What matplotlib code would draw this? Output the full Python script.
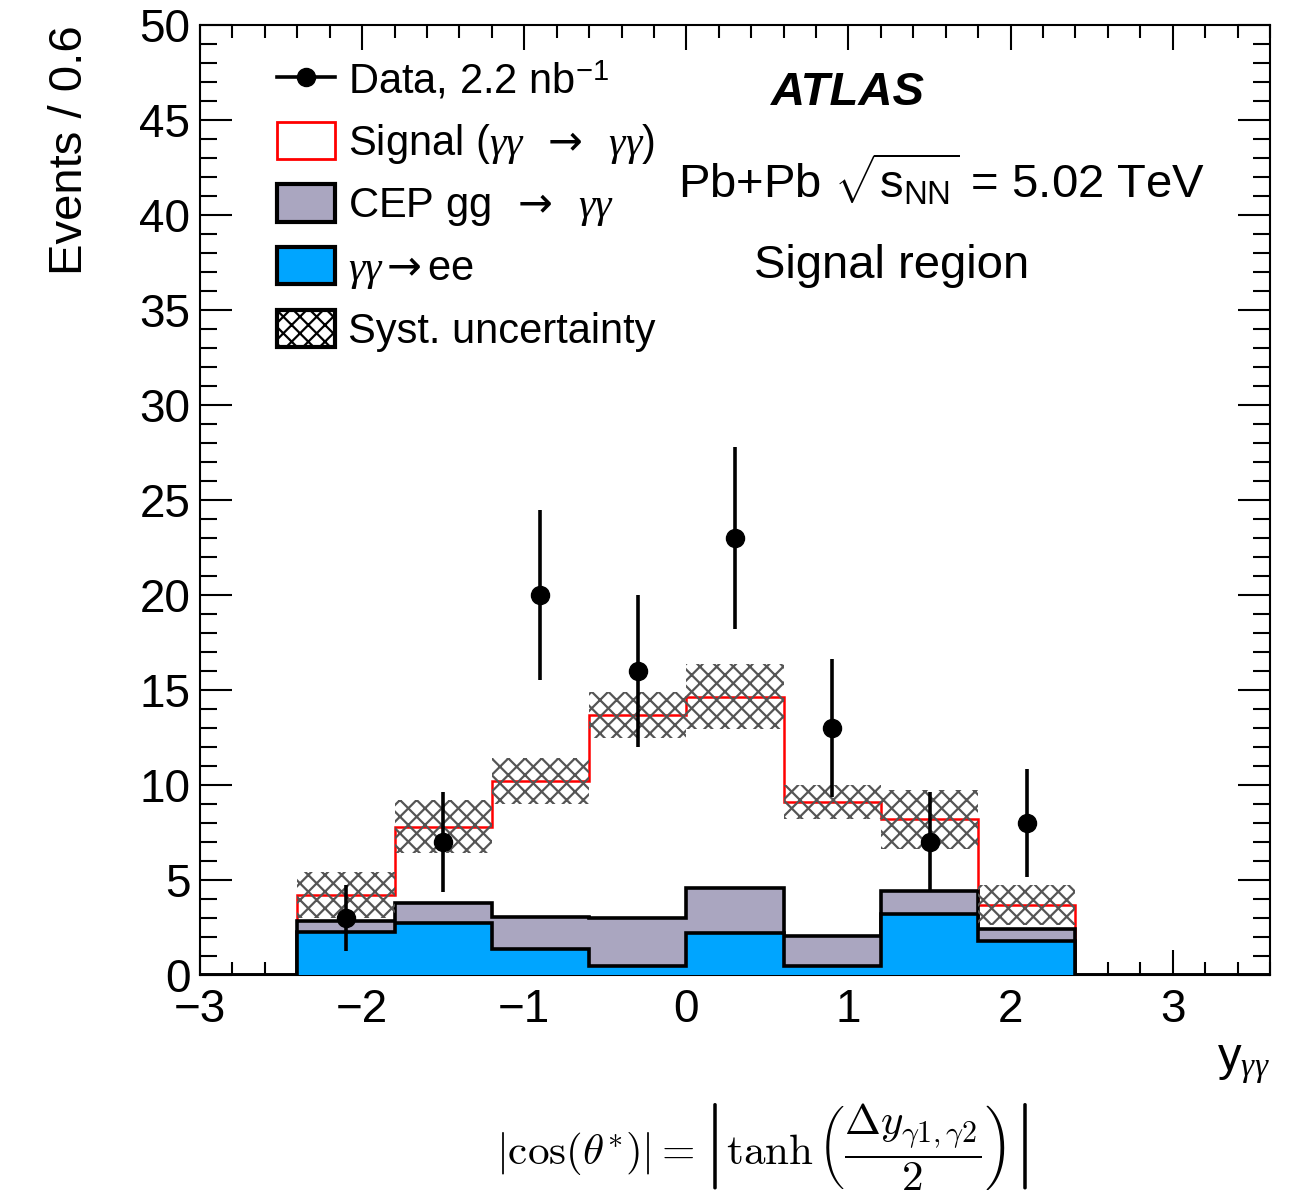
import numpy as np
import matplotlib
matplotlib.use("Agg")
import matplotlib.pyplot as plt
from matplotlib.patches import Patch
from matplotlib.lines import Line2D
from matplotlib.ticker import MultipleLocator

plt.rcParams['font.family'] = ['Liberation Sans', 'DejaVu Sans']
plt.rcParams['mathtext.fontset'] = 'custom'
plt.rcParams['mathtext.rm'] = 'Liberation Sans'
plt.rcParams['mathtext.it'] = 'Liberation Serif:italic'
plt.rcParams['mathtext.sf'] = 'DejaVu Sans'
plt.rcParams['mathtext.bf'] = 'Liberation Sans:bold'
plt.rcParams['hatch.linewidth'] = 1.6
plt.rcParams['hatch.color'] = '#555555'

# binning in y_gg (11 bins of 0.6 from -3 to 3.6)
edges = [-3.0, -2.4, -1.8, -1.2, -0.6, 0.0, 0.6, 1.2, 1.8, 2.4, 3.0, 3.6]
# stacked predictions per bin
ee = [0, 2.28, 2.72, 1.35, 0.47, 2.23, 0.47, 3.20, 1.80, 0, 0]
cep = [0, 0.58, 1.05, 1.69, 2.51, 2.37, 1.58, 1.20, 0.60, 0, 0]
signal = [0, 1.34, 4.03, 7.16, 10.72, 10.05, 7.05, 3.80, 1.30, 0, 0]
syst = [0, 1.20, 1.40, 1.20, 1.20, 1.70, 0.90, 1.55, 1.05, 0, 0]
# data
data_x = [-2.1, -1.5, -0.9, -0.3, 0.3, 0.9, 1.5, 2.1]
data_y = [3, 7, 20, 16, 23, 13, 7, 8]
data_err = [1.73, 2.65, 4.47, 4.0, 4.8, 3.61, 2.65, 2.83]

c_cep = '#aaa6c0'
c_ee = '#00a5ff'

edges = np.array(edges)
ee = np.array(ee)
bkg = ee + np.array(cep)
total = bkg + np.array(signal)
syst = np.array(syst)
centers = 0.5 * (edges[:-1] + edges[1:])

fig = plt.figure(figsize=(13.07, 11.97), dpi=100, facecolor='w')
ax = fig.add_axes([200/1307, 1-975/1197, 1070/1307, 950/1197])

# signal on top of stack (red outline), then backgrounds
ax.stairs(total, edges, color='red', lw=1.8, zorder=1)
ax.stairs(bkg, edges, baseline=ee, fill=True, color=c_cep, lw=0, zorder=2)
ax.stairs(bkg, edges, color='k', lw=2.6, zorder=3)
ax.stairs(ee, edges, fill=True, color=c_ee, lw=0, zorder=3)
ax.stairs(ee, edges, color='k', lw=2.6, zorder=4)

# systematic band
m = syst > 0
ax.bar(centers[m], 2*syst[m], bottom=total[m]-syst[m], width=0.6,
       fill=False, hatch='xx', edgecolor='#555555', lw=0, zorder=5)

ax.errorbar(data_x, data_y, yerr=data_err, fmt='o', color='k', ms=13,
            elinewidth=2.6, capsize=0, zorder=6)

ax.set_xlim(-3.0, 3.6)
ax.set_ylim(0, 50)
ax.xaxis.set_major_locator(MultipleLocator(1))
ax.xaxis.set_minor_locator(MultipleLocator(0.2))
ax.yaxis.set_major_locator(MultipleLocator(5))
ax.yaxis.set_minor_locator(MultipleLocator(1))
ax.tick_params(which='both', direction='in', top=True, right=True, width=1.5,
               labelsize=33)
ax.tick_params(axis='x', which='major', length=18, pad=9)
ax.tick_params(axis='x', which='minor', length=9.5)
ax.tick_params(axis='y', which='major', length=23, pad=7)
ax.tick_params(axis='y', which='minor', length=12)
for s in ax.spines.values():
    s.set_linewidth(1.5)

ax.text(-0.1215, 1.0, 'Events / 0.6', rotation=90, ha='center', va='top',
        fontsize=34, transform=ax.transAxes)
ax.text(1.0, -0.07, r'y$_{\gamma\gamma}$', ha='right', va='top', fontsize=34,
        transform=ax.transAxes)

ax.text(0.6056, 0.9158, 'ATLAS', fontsize=34, fontweight='bold',
        fontstyle='italic', ha='center', va='baseline', transform=ax.transAxes)
ax.text(0.6935, 0.8179, r'Pb+Pb $\sqrt{\mathrm{s}_{\mathrm{NN}}}$ = 5.02 TeV',
        fontsize=34, ha='center', va='baseline', transform=ax.transAxes)
ax.text(0.6467, 0.7337, 'Signal region', fontsize=34, ha='center',
        va='baseline', transform=ax.transAxes)

handles = [
    Line2D([], [], color='k', marker='o', ms=13, lw=2.6),
    Patch(facecolor='white', edgecolor='red', lw=2),
    Patch(facecolor=c_cep, edgecolor='k', lw=3),
    Patch(facecolor=c_ee, edgecolor='k', lw=3),
    Patch(facecolor='white', edgecolor='k', hatch='xx', lw=3),
]
labels = [
    r'Data, 2.2 nb$^{\mathrm{-1}}$',
    r'Signal ($\gamma\gamma\ \ \mathsf{\rightarrow}\ \ \gamma\gamma$)',
    r'CEP gg$\ \ \mathsf{\rightarrow}\ \ \gamma\gamma$',
    r'$\gamma\gamma\mathsf{\rightarrow}$ee',
    'Syst. uncertainty',
]
ax.legend(handles, labels, loc='upper left', bbox_to_anchor=(0.072, 0.963),
          frameon=False, fontsize=30, handlelength=1.39, handleheight=1.0,
          handletextpad=0.31, labelspacing=0.45, borderpad=0, borderaxespad=0)

fig.text(0.583, 0.0418,
         r'$|\cos(\theta^{*})| = \left|\tanh\left(\dfrac{\Delta y_{\gamma1,\gamma2}}{2}\right)\right|$',
         fontsize=31, ha='center', va='center', math_fontfamily='cm')

fig.savefig('out.png', dpi=100)
